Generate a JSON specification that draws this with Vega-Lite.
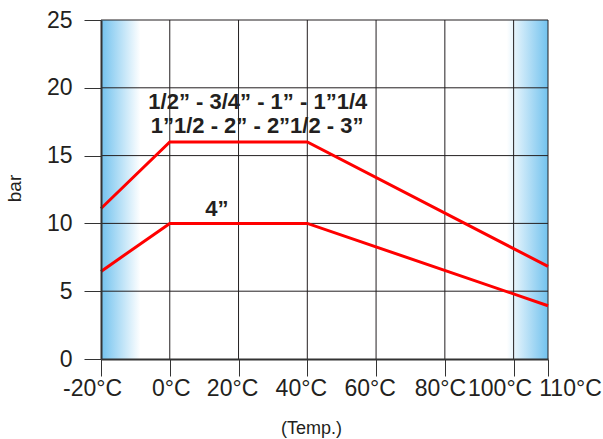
{
  "$schema": "https://vega.github.io/schema/vega-lite/v6.json",
  "width": 447,
  "height": 339,
  "autosize": {"type": "none"},
  "padding": {"left": 101, "top": 20, "right": 55, "bottom": 80},
  "background": "#ffffff",
  "view": {"stroke": null},
  "config": {
    "font": "Liberation Sans",
    "axis": {"labelFont": "Liberation Sans", "titleFont": "Liberation Sans", "labelColor": "#231f20", "titleColor": "#231f20"}
  },
  "datasets": {
    "lines": [
      {"series": "upper", "temp": -20, "bar": 11.1},
      {"series": "upper", "temp": 0, "bar": 16},
      {"series": "upper", "temp": 40, "bar": 16},
      {"series": "upper", "temp": 110, "bar": 6.83},
      {"series": "lower", "temp": -20, "bar": 6.46},
      {"series": "lower", "temp": 0, "bar": 10},
      {"series": "lower", "temp": 40, "bar": 10},
      {"series": "lower", "temp": 110, "bar": 3.93}
    ],
    "labels": [
      {"tx": 25.6, "ty": 18.42, "label": "1/2” - 3/4” - 1” - 1”1/4"},
      {"tx": 25.4, "ty": 16.68, "label": "1”1/2 - 2” - 2”1/2 - 3”"},
      {"tx": 13.7, "ty": 10.52, "label": "4”"}
    ],
    "vgrid": [{"gx": 0}, {"gx": 20}, {"gx": 40}, {"gx": 60}, {"gx": 80}, {"gx": 100}, {"gx": 110}],
    "hgrid": [{"gy": 5}, {"gy": 10}, {"gy": 15}, {"gy": 20}, {"gy": 25}]
  },
  "layer": [
    {
      "data": {"values": [{"x1": -20, "x2": -8.5}]},
      "mark": {"type": "rect", "fill": {"gradient": "linear", "x1": 0, "y1": 0, "x2": 1, "y2": 0, "stops": [{"offset": 0, "color": "#72c2ee"}, {"offset": 1, "color": "#ffffff"}]}},
      "encoding": {
        "x": {"field": "x1", "type": "quantitative", "scale": {"domain": [-20, 110], "nice": false, "zero": false},
          "axis": {
            "values": [-20, 0, 20, 40, 60, 80, 100, 110],
            "labelExpr": "datum.value + '°C'",
            "labelFontSize": 23,
            "labelFlush": false,
            "labelOverlap": false,
            "labelBound": false,
            "labelPadding": 1,
            "labelOffset": {"condition": [
              {"test": "datum.value == -20", "value": -9},
              {"test": "datum.value == 0", "value": 1},
              {"test": "datum.value == 100", "value": -14},
              {"test": "datum.value == 110", "value": 22},
              {"test": "datum.value == 80", "value": -5}
            ], "value": -6.5},
            "tickSize": 17,
            "tickColor": "#333333",
            "tickWidth": 1,
            "domainColor": "#333333",
            "domainWidth": 2,
            "grid": false,
            "zindex": 1,
            "title": "(Temp.)",
            "titleFontSize": 18,
            "titleFontWeight": "normal",
            "titleX": 210,
            "titleY": 74,
            "titleBaseline": "alphabetic",
            "titleAlign": "center"
          }},
        "x2": {"field": "x2"},
        "y": {"datum": 0, "type": "quantitative", "scale": {"domain": [0, 25], "nice": false},
          "axis": {
            "values": [0, 5, 10, 15, 20, 25],
            "labelFontSize": 23,
            "labelPadding": 12,
            "tickSize": 17,
            "tickColor": "#333333",
            "domainColor": "#333333",
            "domainWidth": 2,
            "grid": false,
            "zindex": 1,
            "title": "bar",
            "titleFontSize": 19,
            "titleFontWeight": "normal",
            "titleX": -87,
            "titleY": 168,
            "titleAngle": -90,
            "titleAlign": "center",
            "titleBaseline": "middle"
          }},
        "y2": {"datum": 25}
      }
    },
    {
      "data": {"values": [{"x1": 98, "x2": 110}]},
      "mark": {"type": "rect", "fill": {"gradient": "linear", "x1": 0, "y1": 0, "x2": 1, "y2": 0, "stops": [{"offset": 0, "color": "#ffffff"}, {"offset": 1, "color": "#72c2ee"}]}},
      "encoding": {
        "x": {"field": "x1", "type": "quantitative"},
        "x2": {"field": "x2"},
        "y": {"datum": 0, "type": "quantitative"},
        "y2": {"datum": 25}
      }
    },
    {
      "data": {"name": "vgrid"},
      "mark": {"type": "rule", "color": "#231f20", "strokeWidth": 1},
      "encoding": {"x": {"field": "gx", "type": "quantitative"}}
    },
    {
      "data": {"name": "hgrid"},
      "mark": {"type": "rule", "color": "#231f20", "strokeWidth": 1},
      "encoding": {"y": {"field": "gy", "type": "quantitative"}}
    },
    {
      "data": {"name": "lines"},
      "mark": {"type": "line", "color": "#ff0000", "strokeWidth": 3, "clip": false},
      "encoding": {
        "x": {"field": "temp", "type": "quantitative"},
        "y": {"field": "bar", "type": "quantitative"},
        "detail": {"field": "series"}
      }
    },
    {
      "data": {"name": "labels"},
      "mark": {"type": "text", "font": "Liberation Sans", "fontWeight": "bold", "fontSize": 22, "color": "#231f20", "align": "center", "baseline": "alphabetic"},
      "encoding": {
        "x": {"field": "tx", "type": "quantitative"},
        "y": {"field": "ty", "type": "quantitative"},
        "text": {"field": "label"}
      }
    }
  ]
}
